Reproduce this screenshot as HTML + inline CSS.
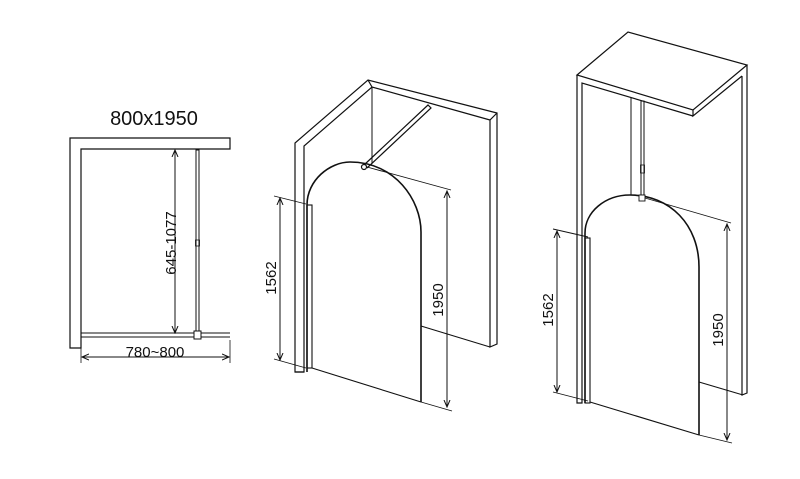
<!DOCTYPE html>
<html><head><style>body{margin:0;background:#fff}svg{display:block}</style></head><body>
<svg width="800" height="479" viewBox="0 0 800 479" xmlns="http://www.w3.org/2000/svg" font-family="Liberation Sans, sans-serif" fill="none" stroke="#111" stroke-width="1.2">
<defs><marker id="a" markerWidth="8" markerHeight="8" refX="7" refY="4" orient="auto-start-reverse" markerUnits="userSpaceOnUse"><path d="M0,1 L7,4 L0,7" fill="none" stroke="#111" stroke-width="1"/></marker></defs>
<!-- Diagram 1 -->
<text x="154" y="125" font-size="20" text-anchor="middle" fill="#111" stroke="none">800x1950</text>
<path d="M70,348 V138 H230 V149 H81 V348 Z"/>
<line x1="175" y1="150" x2="175" y2="333" stroke-width="1" marker-start="url(#a)" marker-end="url(#a)"/>
<text transform="translate(176,243) rotate(-90)" font-size="15" text-anchor="middle" fill="#111" stroke="none">645-1077</text>
<rect x="196" y="150" width="3" height="184" stroke-width="1"/>
<rect x="195.5" y="240" width="4" height="6" stroke-width="0.8"/>
<line x1="81" y1="333" x2="230" y2="333" stroke-width="1"/>
<line x1="81" y1="337" x2="230" y2="337" stroke-width="1"/>
<rect x="194" y="331" width="7" height="8" stroke-width="1" fill="#fff"/>
<line x1="81" y1="340" x2="81" y2="363" stroke-width="0.8"/>
<line x1="230" y1="340" x2="230" y2="363" stroke-width="0.8"/>
<line x1="82" y1="357" x2="229" y2="357" stroke-width="1" marker-start="url(#a)" marker-end="url(#a)"/>
<text x="155" y="357" font-size="15" text-anchor="middle" fill="#111" stroke="none">780~800</text>
<!-- Diagram 2 -->
<path d="M295,372 V143 L368,80 L497,113 V344 L490,347 V120 L372,87 L304,146 V372 Z"/>
<line x1="368" y1="80" x2="372" y2="87"/>
<line x1="490" y1="120" x2="497" y2="113"/>
<line x1="372" y1="87" x2="372" y2="163" stroke-width="1"/>
<line x1="295" y1="372" x2="304" y2="372"/>
<path d="M364,165 L428,105 L431,108 L367,168" stroke-width="1.2"/>
<circle cx="364" cy="167" r="2.5" fill="#fff"/>
<path d="M307,372 V205 C307,180 330,162 350,162 C395,162 421,200 421,232 V402" stroke-width="1.6"/>
<rect x="307" y="205" width="5" height="163" stroke-width="1.1"/>
<line x1="312" y1="368" x2="421" y2="402" stroke-width="1.1"/>
<line x1="421" y1="326" x2="490" y2="347" stroke-width="1.1"/>
<line x1="367" y1="167" x2="451" y2="190" stroke-width="0.9"/>
<line x1="421" y1="402" x2="452" y2="411" stroke-width="0.9"/>
<line x1="447" y1="191" x2="447" y2="407" stroke-width="1" marker-start="url(#a)" marker-end="url(#a)"/>
<text transform="translate(443,300) rotate(-90)" font-size="15" text-anchor="middle" fill="#111" stroke="none">1950</text>
<line x1="274" y1="196" x2="306" y2="204" stroke-width="0.9"/>
<line x1="274" y1="359" x2="306" y2="368" stroke-width="0.9"/>
<line x1="280" y1="198" x2="280" y2="360" stroke-width="1" marker-start="url(#a)" marker-end="url(#a)"/>
<text transform="translate(276,278) rotate(-90)" font-size="15" text-anchor="middle" fill="#111" stroke="none">1562</text>
<!-- Diagram 3 -->
<path d="M577,75 L628,32 L747,65 L693,110 Z"/>
<path d="M693,110 V116 L742,76"/>
<path d="M577,75 V403 H582 V83 L693,116"/>
<path d="M747,65 V393 L742,395 V76"/>
<line x1="631" y1="98" x2="631" y2="195" stroke-width="1"/>
<rect x="641" y="101" width="3" height="94" stroke-width="1"/>
<rect x="640.5" y="165" width="4" height="8" stroke-width="0.8"/>
<path d="M585,403 V233 C585,212 605,195 630,195 C670,195 699,225 699,267 V435" stroke-width="1.6"/>
<rect x="585" y="238" width="5" height="165" stroke-width="1.1"/>
<rect x="639" y="195" width="6" height="6" stroke-width="0.9" fill="#fff"/>
<line x1="590" y1="402" x2="699" y2="435" stroke-width="1.1"/>
<line x1="699" y1="382" x2="743" y2="395" stroke-width="1.1"/>
<line x1="645" y1="198" x2="731" y2="223" stroke-width="0.9"/>
<line x1="699" y1="435" x2="732" y2="443" stroke-width="0.9"/>
<line x1="727" y1="224" x2="727" y2="440" stroke-width="1" marker-start="url(#a)" marker-end="url(#a)"/>
<text transform="translate(723,330) rotate(-90)" font-size="15" text-anchor="middle" fill="#111" stroke="none">1950</text>
<line x1="553" y1="229" x2="588" y2="237" stroke-width="0.9"/>
<line x1="553" y1="392" x2="588" y2="401" stroke-width="0.9"/>
<line x1="557" y1="231" x2="557" y2="392" stroke-width="1" marker-start="url(#a)" marker-end="url(#a)"/>
<text transform="translate(553,310) rotate(-90)" font-size="15" text-anchor="middle" fill="#111" stroke="none">1562</text>
</svg>
</body></html>
